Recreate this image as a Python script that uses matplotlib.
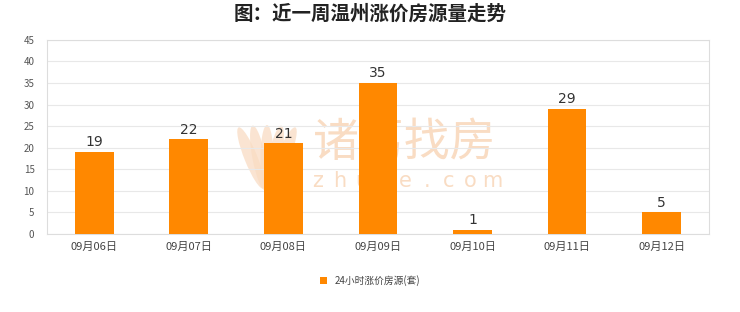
import matplotlib
matplotlib.use("Agg")
import matplotlib.pyplot as plt
from matplotlib.patches import Ellipse
from matplotlib.transforms import IdentityTransform

plt.rcParams['font.family'] = ['Noto Sans CJK SC', 'DejaVu Sans']

dates = ["09月06日", "09月07日", "09月08日", "09月09日", "09月10日", "09月11日", "09月12日"]
counts = [19, 22, 21, 35, 1, 29, 5]
y_ticks = [0, 5, 10, 15, 20, 25, 30, 35, 40, 45]
series_name = "24小时涨价房源(套)"
title = "图：近一周温州涨价房源量走势"

W, H = 740, 312
fig = plt.figure(figsize=(W / 100, H / 100), dpi=100)
ax = fig.add_axes([0.0635, 0.25, 0.8945, 0.622])

x = list(range(len(dates)))
bars = ax.bar(x, counts, width=0.41, color="#FF8800", zorder=3, label=series_name)
for xi, v in zip(x, counts):
    ax.text(xi, v + 0.6, str(v), ha="center", va="bottom", fontsize=10,
            color="#333333", family="DejaVu Sans", zorder=4)

ax.set_xlim(-0.5, len(dates) - 0.5)
ax.set_ylim(0, 45)
ax.set_yticks(y_ticks)
ax.set_xticks(x)
ax.set_xticklabels(dates, fontsize=8, color="#444444")
ax.tick_params(axis="y", labelsize=7, colors="#555555", length=0, pad=9)
ax.tick_params(axis="x", length=0, pad=6)
ax.yaxis.grid(True, color="#e8e8e8", linewidth=0.8, zorder=0)
for s in ax.spines.values():
    s.set_color("#dddddd")
    s.set_linewidth(0.8)

# faint brand watermark behind the bars
wm = "#f9dcc3"
ft = fig.transFigure
ax.text(405 / W, 1 - 143 / H, "诸葛找房", transform=ft, ha="center", va="center",
        fontsize=33, color=wm, zorder=1)
for i, ch in enumerate("zhuge.com"):
    ax.text((318 + i * 21.8) / W, 1 - 181 / H, ch, transform=ft, ha="center",
            va="center", fontsize=15, color=wm, zorder=1, family="DejaVu Sans")
px = IdentityTransform()
for ang, dx in [(22, -16), (11, -8), (0, 0), (-11, 8), (-22, 16)]:
    ax.add_patch(Ellipse((267 + dx, H - 158), 13, 66, angle=ang,
                         transform=px, facecolor=wm, edgecolor="none",
                         alpha=0.75, zorder=1))

fig.text(0.5, 0.955, title, ha="center", va="center", fontsize=14,
         fontweight="bold", color="#222222")

fig.legend(handles=[bars], labels=[series_name], loc="center",
           bbox_to_anchor=(0.5, 0.1), frameon=False, fontsize=7,
           handlelength=0.7, handleheight=0.7, labelcolor="#444444")

fig.savefig("out.png", dpi=100, facecolor="white")
